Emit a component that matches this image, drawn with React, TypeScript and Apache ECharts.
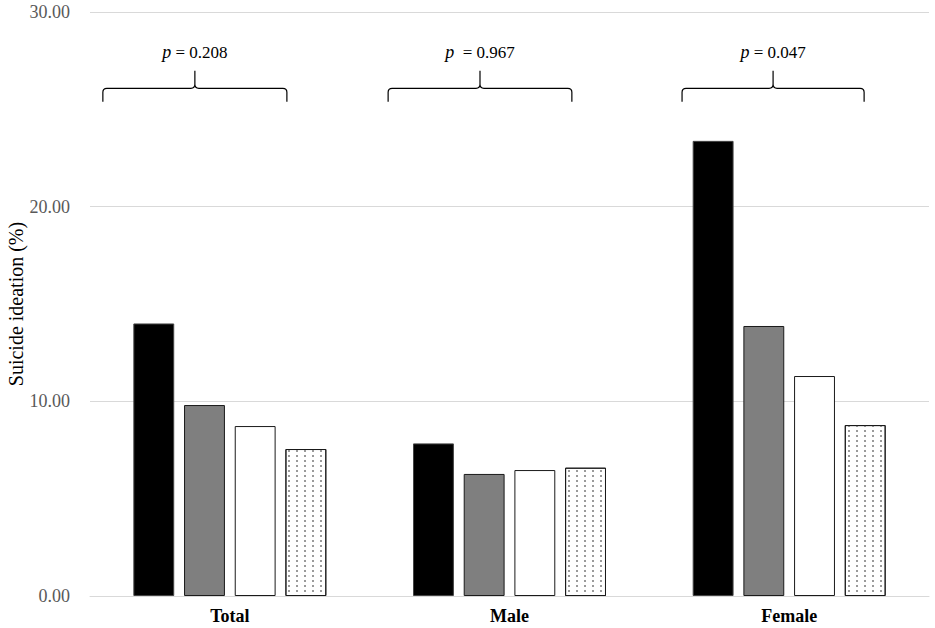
import React, { useEffect, useRef } from "react";
import * as echarts from "echarts";

const categories = ["Total", "Male", "Female"];
const seriesNames = ["Group 1", "Group 2", "Group 3", "Group 4"];
const group1 = [14.0, 7.84, 23.38];
const group2 = [9.81, 6.27, 13.87];
const group3 = [8.73, 6.47, 11.3];
const group4 = [7.55, 6.59, 8.78];
const pValues = ["0.208", "0.967", "0.047"];
const pLabels = ["{i|p} = " + pValues[0], "{i|p}  = " + pValues[1], "{i|p} = " + pValues[2]];
const yTicks = [0, 10, 20, 30];

// annotation geometry (brace spans as fraction of category band; heights in axis units)
const braceSpan = [
  [0.046, 0.704],
  [0.066, 0.723],
  [0.117, 0.768],
];
const braceBarY = 26.08;
const braceEndY = 25.39;
const braceTipY = 26.98;
const labelY = 27.94;

const FONT = "'Liberation Serif', 'Times New Roman', serif";

export default function App() {
  const ref = useRef<HTMLDivElement>(null);
  useEffect(() => {
    if (!ref.current) return;
    const chart = echarts.init(ref.current, undefined, { renderer: "svg" });
    const values = [group1, group2, group3, group4];
    const fills = ["#000000", "#7f7f7f", "#ffffff", "#ffffff"];
    const barSeries = values.map((v, i) => ({
      name: seriesNames[i],
      type: "bar",
      data: v,
      barCategoryGap: "31%",
      barGap: "24%",
      itemStyle: {
        color: fills[i],
        borderColor: i === 0 ? "#444" : "#1a1a1a",
        borderWidth: 1,
        decal:
          i === 3
            ? {
                symbol: "rect",
                symbolSize: 1,
                color: "#9a9a9a",
                backgroundColor: "#ffffff",
                dashArrayX: [1.2, 5.2],
                dashArrayY: [1.2, 2.8],
                rotation: 0,
              }
            : "none",
      },
    }));

    const braceSeries = {
      type: "custom",
      coordinateSystem: "cartesian2d",
      silent: true,
      clip: false,
      z: 10,
      data: categories.map((_, i) => [i, braceBarY]),
      renderItem: (params: any, api: any) => {
        const idx = api.value(0);
        const band = api.size([1, 0])[0];
        const c = api.coord([idx, braceBarY]);
        const start = c[0] - band / 2;
        const L = start + braceSpan[idx][0] * band;
        const R = start + braceSpan[idx][1] * band;
        const C = (L + R) / 2;
        const yb = c[1];
        const ye = api.coord([idx, braceEndY])[1];
        const yt = api.coord([idx, braceTipY])[1];
        const yl = api.coord([idx, labelY])[1];
        const r = 4;
        const d =
          `M${L},${ye} L${L},${yb + r} Q${L},${yb} ${L + r},${yb} L${C - r},${yb} Q${C},${yb} ${C},${yb - r} L${C},${yt} ` +
          `M${C},${yb - r} Q${C},${yb} ${C + r},${yb} L${R - r},${yb} Q${R},${yb} ${R},${yb + r} L${R},${ye}`;
        return {
          type: "group",
          children: [
            {
              type: "path",
              shape: { pathData: d },
              style: { stroke: "#000", fill: "none", lineWidth: 1.2 },
            },
            {
              type: "text",
              x: C,
              y: yl,
              style: {
                text: pLabels[idx],
                fontFamily: FONT,
                fontSize: 17,
                fill: "#000",
                align: "center",
                verticalAlign: "middle",
                rich: {
                  i: { fontStyle: "italic", fontFamily: FONT, fontSize: 18, fill: "#000" },
                },
              },
            },
          ],
        };
      },
    };

    chart.setOption({
      animation: false,
      backgroundColor: "#ffffff",
      grid: { left: 90, right: 6, top: 12, bottom: 32, containLabel: false, outerBoundsMode: "none" },
      xAxis: {
        type: "category",
        data: categories,
        axisLine: { show: true, lineStyle: { color: "#d9d9d9", width: 1 } },
        axisTick: { show: false },
        axisLabel: { color: "#000", fontWeight: "bold", fontSize: 18, fontFamily: FONT, margin: 11 },
      },
      yAxis: {
        type: "value",
        min: yTicks[0],
        max: yTicks[yTicks.length - 1],
        interval: 10,
        name: "Suicide ideation (%)",
        nameLocation: "middle",
        nameGap: 64,
        nameMoveOverlap: false,
        nameTextStyle: { color: "#000", fontSize: 20, fontFamily: FONT },
        axisLine: { show: false },
        axisTick: { show: false },
        axisLabel: {
          color: "#595959",
          fontSize: 18,
          fontFamily: FONT,
          margin: 20,
          formatter: (v: number) => v.toFixed(2),
        },
        splitLine: { lineStyle: { color: "#d9d9d9", width: 1 } },
      },
      series: [...barSeries, braceSeries],
    });
    return () => chart.dispose();
  }, []);
  return (
    <div
      ref={ref}
      style={{ position: "absolute", left: 0, top: 0, width: 935, height: 628, background: "#fff" }}
    />
  );
}
